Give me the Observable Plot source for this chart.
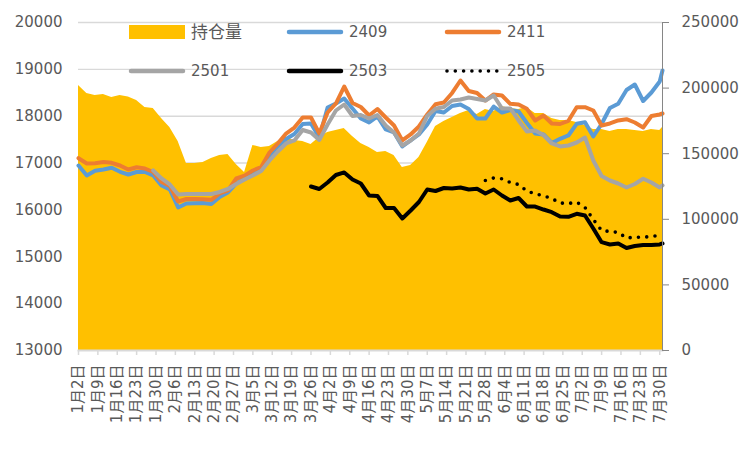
<!DOCTYPE html>
<html><head><meta charset="utf-8">
<script src="https://cdn.jsdelivr.net/npm/d3@7"></script>
<script src="https://cdn.jsdelivr.net/npm/@observablehq/plot@0.6"></script>
<style>
body{margin:0;background:#fff;}
#wrap{position:relative;width:750px;height:450px;}
#wrap svg{position:absolute;left:0;top:0;}
</style></head><body><div id="wrap"></div>
<script>
const dates = ["2024-01-02","2024-01-05","2024-01-08","2024-01-11","2024-01-14","2024-01-17","2024-01-20","2024-01-23","2024-01-26","2024-01-29",
"2024-02-01","2024-02-04","2024-02-07","2024-02-10","2024-02-13","2024-02-16","2024-02-19","2024-02-22","2024-02-25","2024-02-28",
"2024-03-02","2024-03-05","2024-03-08","2024-03-11","2024-03-14","2024-03-17","2024-03-20","2024-03-23","2024-03-26","2024-03-29",
"2024-04-01","2024-04-04","2024-04-07","2024-04-10","2024-04-13","2024-04-16","2024-04-19","2024-04-22","2024-04-25","2024-04-28",
"2024-05-01","2024-05-04","2024-05-07","2024-05-10","2024-05-13","2024-05-16","2024-05-19","2024-05-22","2024-05-25","2024-05-28",
"2024-05-31","2024-06-03","2024-06-06","2024-06-09","2024-06-12","2024-06-15","2024-06-18","2024-06-21","2024-06-24","2024-06-27",
"2024-06-30","2024-07-03","2024-07-06","2024-07-09","2024-07-12","2024-07-15","2024-07-18","2024-07-21","2024-07-24","2024-07-27",
"2024-07-30","2024-07-31"];

// 持仓量 (right axis)
const oi = [202000,195900,194400,195100,192800,194400,193200,190500,185200,184500,
176800,170000,159300,142500,142500,143300,146300,148600,149400,141800,
135700,156300,154700,155500,159300,162300,160100,159300,157000,162300,
166200,167700,169200,163100,157800,154700,150900,151700,148600,139500,
141000,147100,158500,170700,174500,177600,180600,182900,179900,183700,
182200,186000,184500,183700,185200,180600,180600,176800,175300,175300,
173800,171500,168400,168400,166900,168400,168400,167700,166900,168400,
167700,170000];

const s2409 = [16948,16735,16835,16863,16899,16814,16756,16810,16810,16735,
16522,16436,16052,16137,16142,16148,16127,16276,16372,16564,
16660,16767,16852,17140,17354,17514,17621,17834,17845,17546,
18186,18271,18378,18165,17951,17866,17994,17717,17653,17354,
17482,17610,17823,18111,18079,18218,18250,18154,17951,17951,
18207,18079,18133,18101,17855,17631,17610,17429,17518,17589,
17838,17872,17567,17834,18175,18265,18560,18677,18325,18506,
18741,18976];

const s2411 = [17104,16991,16997,17023,17006,16948,16863,16910,16884,16810,
16596,16511,16180,16233,16231,16227,16216,16351,16415,16671,
16731,16842,16916,17226,17418,17631,17759,17973,17973,17631,
18079,18271,18634,18282,18197,18015,18154,17973,17802,17482,
17610,17781,18037,18257,18293,18496,18762,18538,18496,18335,
18464,18442,18265,18250,18158,17909,18015,17845,17834,17902,
18193,18193,18122,17802,17845,17909,17936,17866,17759,18005,
18037,18058];

const s2501 = [null,null,null,null,null,null,null,null,null,16842,
16671,16543,16330,16340,16340,16340,16340,16383,16447,16554,
16650,16735,16831,17055,17247,17418,17482,17706,17653,17493,
17823,18122,18250,18005,18026,17951,18026,17802,17653,17375,
17482,17631,18005,18158,18197,18335,18357,18399,18367,18335,
18442,18165,18165,17909,17674,17695,17599,17418,17354,17375,
17439,17546,17055,16724,16628,16564,16479,16554,16665,16586,
16479,16522];

const s2503 = [null,null,null,null,null,null,null,null,null,null,
null,null,null,null,null,null,null,null,null,null,
null,null,null,null,null,null,null,null,16500,16447,
16586,16746,16800,16650,16564,16308,16298,16041,16041,15817,
15988,16169,16436,16404,16468,16458,16479,16436,16451,16351,
16436,16308,16201,16255,16073,16073,16009,15952,15860,15854,
15918,15881,15604,15312,15263,15284,15188,15230,15252,15252,
15263,15284];

const s2505 = [null,null,null,null,null,null,null,null,null,null,
null,null,null,null,null,null,null,null,null,null,
null,null,null,null,null,null,null,null,null,null,
null,null,null,null,null,null,null,null,null,null,
null,null,null,null,null,null,null,null,null,16628,
16682,16665,16586,16543,16404,16344,16302,16244,16148,16137,
16165,16052,15796,15561,15540,15519,15401,15418,15418,15433,
15455,null];

const tickDates = ["2024-01-02","2024-01-09","2024-01-16","2024-01-23","2024-01-30","2024-02-06","2024-02-13","2024-02-20","2024-02-27",
"2024-03-05","2024-03-12","2024-03-19","2024-03-26","2024-04-02","2024-04-09","2024-04-16","2024-04-23","2024-04-30",
"2024-05-07","2024-05-14","2024-05-21","2024-05-28","2024-06-04","2024-06-11","2024-06-18","2024-06-25",
"2024-07-02","2024-07-09","2024-07-16","2024-07-23","2024-07-30"];

const leftTicks = [13000,14000,15000,16000,17000,18000,19000,20000];
const rightTicks = [0,50000,100000,150000,200000,250000];

const seriesNames = ["2409","2411","2501","2503","2505"];
const seriesColors = ["#5B9BD5","#ED7D31","#A5A5A5","#000000","#000000"];
const seriesValues = [s2409,s2411,s2501,s2503,s2505];
const oiName = "持仓量";
const oiColor = "#FFC000";

const FONT = '"DejaVu Sans","Noto Sans CJK SC",sans-serif';
const TXT = "#595959";
const parse = s => new Date(s + "T00:00:00Z");
const LMIN = 13000, LMAX = 20000, RMAX = 250000;
const toLeft = v => LMIN + v * (LMAX - LMIN) / RMAX;
const fromLeft = v => Math.round((v - LMIN) * RMAX / (LMAX - LMIN));

const rows = dates.map((d, i) => ({date: parse(d), oi: oi[i]}));
const lineRows = seriesNames.map((n, j) =>
  dates.map((d, i) => ({date: parse(d), v: seriesValues[j][i]})).filter(r => r.v != null));

const lineMarks = seriesNames.map((n, j) => Plot.lineY(lineRows[j], {
  x: "date", y: "v", stroke: seriesColors[j],
  strokeWidth: n === "2505" ? 3.6 : 4,
  strokeLinejoin: "round",
  strokeLinecap: "round",
  strokeDasharray: n === "2505" ? "0 8.3" : null
}));

const chart = Plot.plot({
  width: 750, height: 450,
  marginLeft: 78, marginRight: 88, marginTop: 22, marginBottom: 100,
  style: {fontFamily: FONT, fontSize: "15px", color: TXT, background: "white"},
  x: {type: "utc", domain: [parse("2024-01-02"), parse("2024-07-31")], label: null},
  y: {domain: [LMIN, LMAX], label: null},
  marks: [
    Plot.gridY(leftTicks.filter(v => v > LMIN), {stroke: "#d9d9d9", strokeOpacity: 1, strokeWidth: 1.4}),
    Plot.areaY(rows, {x: "date", y1: LMIN, y2: d => toLeft(d.oi), fill: oiColor, curve: "linear"}),
    ...lineMarks,
    Plot.frame({anchor: "bottom", stroke: "#d9d9d9", strokeWidth: 2}),
    Plot.frame({anchor: "right", stroke: "#868686", strokeWidth: 1}),
    Plot.axisY(leftTicks, {anchor: "left", label: null, tickSize: 0, tickPadding: 16, fontSize: 15, fill: TXT, tickFormat: d3.format("d")}),
    Plot.axisY(rightTicks.map(toLeft), {anchor: "right", label: null, tickSize: 6, tickPadding: 13, stroke: "#868686", fontSize: 15, fill: TXT,
      tickFormat: d => String(fromLeft(d))}),
    Plot.axisX(tickDates.map(parse), {anchor: "bottom", label: null, tickSize: 5, tickPadding: 9, tickRotate: -90, stroke: "#d9d9d9", strokeWidth: 1.5,
      fontSize: 15, fill: TXT,
      tickFormat: d => `${d.getUTCMonth() + 1}月${d.getUTCDate()}日`})
  ]
});

const wrap = document.getElementById("wrap");
wrap.appendChild(chart);

// legend overlay
const legendItems = [{name: oiName, color: oiColor, kind: "area"}].concat(
  seriesNames.map((n, j) => ({name: n, color: seriesColors[j], kind: n === "2505" ? "dot" : "line"})));
const colX = [129, 287, 445];
const rowY = [32, 71];
const sw = d3.select(wrap).append("svg").attr("width", 750).attr("height", 450)
  .style("pointer-events", "none").style("font-family", FONT);
legendItems.forEach((it, i) => {
  const x0 = colX[i % 3], y0 = rowY[Math.floor(i / 3)];
  const g = sw.append("g");
  if (it.kind === "area") {
    g.append("rect").attr("x", x0).attr("y", y0 - 7).attr("width", 56).attr("height", 14).attr("fill", it.color);
  } else {
    g.append("line").attr("x1", x0 + 2).attr("x2", x0 + 54).attr("y1", y0).attr("y2", y0)
      .attr("stroke", it.color).attr("stroke-width", it.kind === "dot" ? 3.6 : 4.5)
      .attr("stroke-linecap", "round")
      .attr("stroke-dasharray", it.kind === "dot" ? "0 8.3" : null);
  }
  g.append("text").attr("x", x0 + 62).attr("y", y0).attr("dy", "0.35em")
    .attr("fill", TXT).style("font-size", it.kind === "area" ? "17px" : "15px").text(it.name);
});
</script></body></html>
